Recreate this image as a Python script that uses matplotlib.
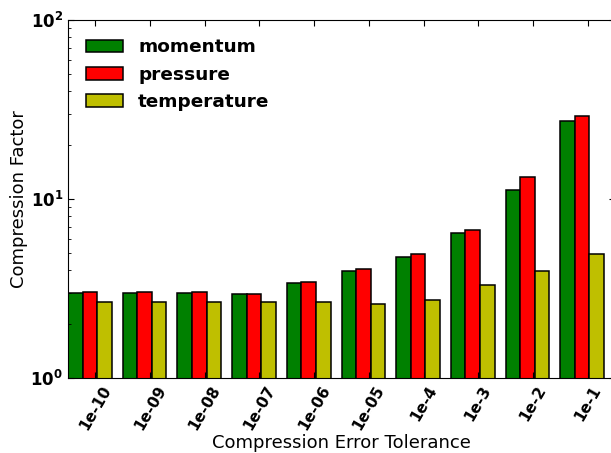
import numpy as np
import matplotlib
matplotlib.use("Agg")
import matplotlib.pyplot as plt

tolerances = ["1e-10", "1e-09", "1e-08", "1e-07", "1e-06", "1e-05",
              "1e-4", "1e-3", "1e-2", "1e-1"]
momentum = [2.97, 2.97, 2.97, 2.95, 3.40, 3.98, 4.72, 6.48, 11.2, 27.3]
pressure = [3.03, 3.03, 3.03, 2.95, 3.42, 4.06, 4.95, 6.74, 13.2, 29.0]
temperature = [2.67, 2.67, 2.67, 2.67, 2.67, 2.58, 2.72, 3.31, 3.96, 4.91]

fig = plt.figure(figsize=(6.11, 4.53), dpi=100)
ax = fig.add_axes([68 / 611, 1 - 378 / 453, 547 / 611, 358 / 453])

ind = np.arange(len(tolerances))
width = 0.8 / 3
series = [("momentum", momentum, (0, 0.5, 0)),
          ("pressure", pressure, (1, 0, 0)),
          ("temperature", temperature, (0.75, 0.75, 0))]
for k, (name, vals, col) in enumerate(series):
    ax.bar(ind + k * width, vals, width, align="edge", color=col,
           edgecolor="black", linewidth=1.1, label=name)

ax.set_yscale("log")
ax.set_ylim(1, 100)
ax.set_xlim(0, len(tolerances))
ax.set_xticks(ind + 0.5)
ax.set_xticklabels(tolerances, rotation=60, ha="center",
                   fontweight="bold", fontsize=11)
for lbl in ax.get_yticklabels():
    lbl.set_fontweight("bold")
ax.tick_params(axis="y", which="major", labelsize=12)
ax.tick_params(direction="in", top=True, right=True, which="both")
ax.tick_params(which="major", length=4)
ax.tick_params(which="minor", length=2)

ax.set_xlabel("Compression Error Tolerance", fontsize=13, labelpad=1)
ax.set_ylabel("Compression Factor", fontsize=13, labelpad=1.5)

ax.legend(loc="upper left", frameon=False,
          prop={"weight": "bold", "size": 13.3},
          handlelength=2.0, handleheight=0.7, borderaxespad=0.6)

fig.savefig("out.png", dpi=100)
